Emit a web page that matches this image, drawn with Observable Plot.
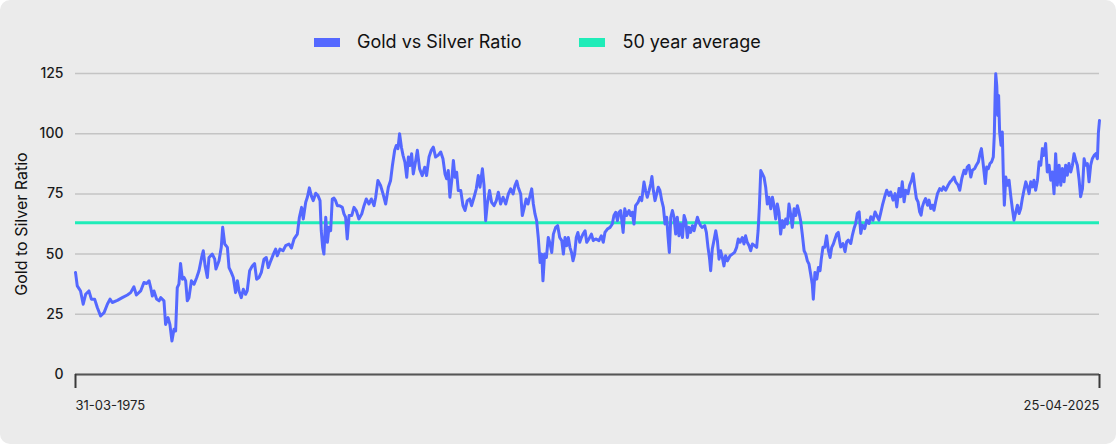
<!DOCTYPE html>
<html>
<head>
<meta charset="utf-8">
<script src="https://cdn.jsdelivr.net/npm/d3@7"></script>
<script src="https://cdn.jsdelivr.net/npm/@observablehq/plot@0.6"></script>
<style>
  html, body { margin: 0; padding: 0; background: #ffffff; }
  #card {
    position: relative;
    width: 1116px;
    height: 444px;
    background: #ebebeb;
    border-radius: 10px;
    overflow: hidden;
    font-family: Inter, "Noto Sans", sans-serif;
  }
  #legend {
    position: absolute;
    left: 314px;
    top: 30px;
    display: flex;
    align-items: center;
    font-size: 18px;
    color: #111;
    line-height: 24px;
  }
  .item { display: flex; align-items: center; margin-right: 58px; }
  .swatch { width: 26px; height: 9px; margin-right: 17px; }
  #ytitle {
    position: absolute;
    left: 21px;
    top: 224px;
    transform: translate(-50%, -50%) rotate(-90deg);
    white-space: nowrap;
    font-size: 16px;
    color: #111;
  }
  #plot { position: absolute; left: 0; top: 60px; }
</style>
</head>
<body>
<div id="card">
  <div id="legend"></div>
  <div id="ytitle"></div>
  <div id="plot"></div>
</div>
<script>
// Gold / silver price ratio, 1975 – 2025 (dates as decimal years)
const years = [
  1975.244, 1975.33, 1975.49, 1975.62, 1975.74, 1975.90, 1976.02, 1976.18, 1976.31, 1976.47,
  1976.64, 1976.80, 1976.93, 1977.04, 1977.29, 1977.53, 1977.78, 1977.94, 1978.10, 1978.22,
  1978.43, 1978.59, 1978.72, 1978.84, 1978.92, 1979.00, 1979.08, 1979.21, 1979.33, 1979.41,
  1979.57, 1979.65, 1979.77, 1979.86, 1979.96, 1980.06, 1980.14, 1980.22, 1980.30, 1980.38,
  1980.47, 1980.55, 1980.63, 1980.71, 1980.79, 1980.91, 1981.04, 1981.17, 1981.28, 1981.41,
  1981.49, 1981.58, 1981.69, 1981.77, 1981.93, 1982.05, 1982.11, 1982.26, 1982.37, 1982.44,
  1982.54, 1982.67, 1982.75, 1982.86, 1982.96, 1983.07, 1983.16, 1983.24, 1983.35, 1983.45,
  1983.56, 1983.64, 1983.76, 1983.89, 1984.00, 1984.10, 1984.22, 1984.33, 1984.46, 1984.57,
  1984.67, 1984.79, 1984.92, 1985.03, 1985.11, 1985.24, 1985.39, 1985.52, 1985.68, 1985.80,
  1985.93, 1986.09, 1986.19, 1986.30, 1986.38, 1986.50, 1986.58, 1986.68, 1986.77, 1986.87,
  1986.99, 1987.10, 1987.20, 1987.26, 1987.33, 1987.39, 1987.48, 1987.56, 1987.64, 1987.72,
  1987.80, 1987.88, 1987.96, 1988.05, 1988.16, 1988.29, 1988.37, 1988.45, 1988.53, 1988.62,
  1988.75, 1988.86, 1988.97, 1989.10, 1989.24, 1989.35, 1989.46, 1989.59, 1989.71, 1989.84,
  1989.92, 1990.03, 1990.16, 1990.28, 1990.41, 1990.54, 1990.65, 1990.74, 1990.85, 1990.93,
  1991.01, 1991.09, 1991.18, 1991.26, 1991.35, 1991.44, 1991.52, 1991.60, 1991.68, 1991.76,
  1991.88, 1991.96, 1992.07, 1992.20, 1992.32, 1992.41, 1992.53, 1992.64, 1992.74, 1992.85,
  1992.97, 1993.10, 1993.21, 1993.31, 1993.39, 1993.47, 1993.55, 1993.64, 1993.72, 1993.80,
  1993.88, 1993.96, 1994.08, 1994.19, 1994.29, 1994.40, 1994.52, 1994.61, 1994.73, 1994.84,
  1994.94, 1995.02, 1995.14, 1995.22, 1995.30, 1995.38, 1995.49, 1995.59, 1995.71, 1995.82,
  1995.92, 1996.03, 1996.15, 1996.28, 1996.41, 1996.52, 1996.64, 1996.73, 1996.82, 1996.89,
  1997.01, 1997.09, 1997.17, 1997.28, 1997.37, 1997.45, 1997.55, 1997.63, 1997.71, 1997.79,
  1997.87, 1997.96, 1998.04, 1998.10, 1998.18, 1998.27, 1998.36, 1998.45, 1998.53, 1998.61,
  1998.72, 1998.82, 1998.92, 1999.02, 1999.10, 1999.18, 1999.26, 1999.34, 1999.42, 1999.50,
  1999.57, 1999.65, 1999.73, 1999.81, 1999.90, 1999.98, 2000.06, 2000.16, 2000.24, 2000.35,
  2000.47, 2000.56, 2000.68, 2000.84, 2000.95, 2001.05, 2001.13, 2001.25, 2001.38, 2001.49,
  2001.57, 2001.66, 2001.74, 2001.82, 2001.90, 2002.02, 2002.10, 2002.19, 2002.31, 2002.39,
  2002.47, 2002.55, 2002.63, 2002.75, 2002.85, 2002.93, 2003.04, 2003.12, 2003.20, 2003.29,
  2003.37, 2003.43, 2003.50, 2003.58, 2003.66, 2003.74, 2003.82, 2003.91, 2003.99, 2004.07,
  2004.15, 2004.22, 2004.28, 2004.35, 2004.43, 2004.51, 2004.59, 2004.67, 2004.75, 2004.83,
  2004.92, 2005.00, 2005.08, 2005.16, 2005.24, 2005.32, 2005.41, 2005.49, 2005.57, 2005.65,
  2005.73, 2005.81, 2005.89, 2006.01, 2006.09, 2006.17, 2006.24, 2006.30, 2006.38, 2006.46,
  2006.55, 2006.63, 2006.71, 2006.79, 2006.87, 2006.95, 2007.03, 2007.12, 2007.25, 2007.36,
  2007.47, 2007.57, 2007.65, 2007.74, 2007.85, 2007.93, 2008.01, 2008.09, 2008.18, 2008.26,
  2008.34, 2008.45, 2008.55, 2008.62, 2008.68, 2008.75, 2008.83, 2008.91, 2008.99, 2009.07,
  2009.15, 2009.24, 2009.32, 2009.40, 2009.48, 2009.56, 2009.64, 2009.72, 2009.81, 2009.89,
  2009.97, 2010.05, 2010.13, 2010.21, 2010.29, 2010.38, 2010.46, 2010.54, 2010.62, 2010.70,
  2010.78, 2010.87, 2010.95, 2011.03, 2011.11, 2011.19, 2011.27, 2011.32, 2011.40, 2011.49,
  2011.57, 2011.65, 2011.71, 2011.79, 2011.88, 2011.97, 2012.06, 2012.14, 2012.22, 2012.30,
  2012.38, 2012.46, 2012.54, 2012.63, 2012.66, 2012.77, 2012.87, 2012.95, 2013.03, 2013.15,
  2013.23, 2013.31, 2013.39, 2013.47, 2013.56, 2013.64, 2013.72, 2013.83, 2013.93, 2014.04,
  2014.13, 2014.24, 2014.34, 2014.45, 2014.53, 2014.61, 2014.70, 2014.81, 2014.91, 2015.02,
  2015.10, 2015.22, 2015.32, 2015.40, 2015.51, 2015.59, 2015.67, 2015.76, 2015.84, 2015.95,
  2016.03, 2016.13, 2016.20, 2016.28, 2016.36, 2016.44, 2016.52, 2016.59, 2016.65, 2016.73,
  2016.81, 2016.90, 2016.98, 2017.06, 2017.14, 2017.22, 2017.30, 2017.39, 2017.50, 2017.60,
  2017.68, 2017.79, 2017.91, 2018.01, 2018.09, 2018.20, 2018.28, 2018.40, 2018.48, 2018.58,
  2018.69, 2018.77, 2018.85, 2018.93, 2019.02, 2019.10, 2019.21, 2019.29, 2019.39, 2019.47,
  2019.54, 2019.59, 2019.67, 2019.73, 2019.80, 2019.88, 2019.96, 2020.04, 2020.12, 2020.17,
  2020.21, 2020.24, 2020.29, 2020.34, 2020.38, 2020.43, 2020.50, 2020.56, 2020.61, 2020.66,
  2020.73, 2020.81, 2020.89, 2020.97, 2021.05, 2021.13, 2021.22, 2021.30, 2021.38, 2021.46,
  2021.54, 2021.62, 2021.71, 2021.79, 2021.87, 2021.95, 2022.03, 2022.11, 2022.19, 2022.28,
  2022.36, 2022.44, 2022.52, 2022.60, 2022.68, 2022.76, 2022.85, 2022.93, 2023.01, 2023.09,
  2023.17, 2023.25, 2023.34, 2023.42, 2023.50, 2023.58, 2023.66, 2023.74, 2023.82, 2023.91,
  2023.99, 2024.07, 2024.15, 2024.23, 2024.31, 2024.39, 2024.48, 2024.56, 2024.64, 2024.72,
  2024.80, 2024.88, 2024.96, 2025.05, 2025.13, 2025.21, 2025.26, 2025.312
];

const ratios = [
  42.4, 36.8, 34.7, 29.2, 33.3, 34.7, 31.3, 31.3, 27.8, 24.3,
  25.7, 29.2, 31.3, 29.9, 30.8, 31.9, 33.0, 34.0, 36.4, 33.0,
  34.7, 38.2, 37.8, 38.9, 36.1, 32.6, 34.7, 31.3, 30.6, 31.9,
  30.6, 20.8, 23.6, 20.8, 13.9, 18.8, 18.1, 36.1, 37.5, 46.1,
  39.6, 40.3, 38.9, 30.6, 31.9, 38.9, 37.5, 40.3, 43.1, 48.6,
  51.4, 45.1, 40.3, 48.6, 50.0, 47.9, 43.8, 47.2, 52.8, 61.1,
  54.2, 52.8, 44.4, 42.4, 40.3, 34.0, 38.9, 34.7, 31.9, 35.4,
  33.3, 34.7, 43.1, 45.1, 46.1, 39.6, 40.3, 42.4, 47.9, 48.6,
  44.4, 47.2, 50.0, 52.1, 49.3, 52.1, 51.4, 53.5, 54.2, 52.5,
  56.3, 58.3, 65.3, 69.4, 64.6, 71.5, 73.6, 77.5, 74.3, 72.2,
  75.3, 74.3, 72.2, 59.7, 52.8, 50.0, 65.3, 54.9, 61.1, 59.7,
  72.9, 73.3, 72.2, 70.1, 70.1, 69.4, 66.7, 65.3, 56.3, 66.0,
  66.0, 69.4, 68.1, 64.6, 66.7, 70.1, 72.9, 70.8, 72.9, 70.1,
  73.6, 80.6, 78.5, 75.0, 70.8, 77.8, 80.6, 86.8, 93.1, 95.1,
  93.8, 100.0, 94.4, 91.0, 88.2, 81.9, 90.3, 86.8, 91.7, 83.3,
  88.9, 93.1, 85.4, 82.6, 86.1, 82.6, 90.3, 93.1, 94.4, 90.3,
  91.0, 92.4, 89.6, 83.3, 81.3, 84.7, 73.6, 80.6, 88.9, 81.9,
  84.0, 76.4, 76.4, 70.1, 68.1, 72.2, 72.9, 70.1, 73.6, 77.1,
  82.6, 77.8, 85.4, 78.5, 63.9, 70.8, 76.4, 71.5, 70.1, 72.2,
  75.7, 70.8, 73.6, 70.8, 75.0, 77.1, 75.0, 78.5, 80.3, 77.8,
  75.0, 66.0, 68.8, 72.9, 70.8, 73.6, 77.1, 70.8, 66.7, 63.9,
  56.9, 46.5, 50.0, 38.9, 50.0, 48.6, 56.9, 54.2, 50.7, 58.3,
  61.1, 61.8, 56.9, 55.6, 50.0, 56.9, 53.5, 56.9, 52.8, 50.7,
  47.2, 50.0, 56.9, 59.0, 54.9, 56.9, 58.3, 59.7, 54.9, 56.3,
  58.3, 55.6, 56.3, 55.6, 57.6, 54.9, 59.0, 60.4, 61.1, 62.5,
  66.0, 67.4, 63.9, 67.4, 68.1, 59.0, 68.8, 66.0, 68.1, 66.0,
  67.4, 62.5, 70.1, 71.5, 73.6, 72.2, 79.9, 76.4, 73.6, 76.4,
  79.2, 82.2, 76.4, 72.2, 75.0, 77.8, 76.4, 72.2, 69.4, 62.5,
  65.3, 56.9, 50.7, 65.3, 68.1, 65.3, 58.3, 65.3, 57.6, 62.5,
  56.9, 66.0, 63.9, 56.9, 61.1, 59.0, 61.8, 59.7, 62.5, 65.3,
  63.2, 61.8, 61.1, 61.8, 59.0, 52.8, 48.6, 43.1, 52.1, 55.6,
  59.7, 55.6, 47.9, 51.4, 48.6, 45.1, 49.3, 47.2, 49.3, 50.0,
  50.7, 52.8, 56.3, 54.9, 56.9, 54.2, 57.6, 54.9, 53.5, 51.4,
  54.2, 53.5, 52.8, 59.7, 69.4, 84.7, 83.3, 81.9, 77.8, 70.8,
  73.6, 68.8, 73.6, 70.1, 64.6, 70.8, 67.4, 58.3, 63.9, 61.1,
  64.6, 62.5, 70.8, 66.7, 61.1, 68.8, 66.0, 70.1, 67.4, 63.9,
  58.3, 51.4, 50.0, 47.2, 45.8, 41.7, 37.5, 31.3, 42.4, 39.6,
  44.4, 43.1, 47.9, 52.8, 52.8, 57.6, 51.4, 48.6, 52.8, 54.2,
  56.3, 58.3, 59.0, 54.2, 53.0, 54.4, 51.0, 55.1, 55.8, 54.4,
  57.9, 60.6, 62.7, 66.9, 67.5, 58.6, 62.0, 60.6, 64.1, 62.7,
  65.5, 64.1, 67.5, 65.5, 64.1, 66.9, 70.3, 73.8, 76.5, 74.4,
  75.8, 72.4, 75.1, 69.6, 77.2, 73.8, 80.0, 71.7, 76.5, 75.1,
  78.6, 80.7, 83.4, 77.9, 73.1, 71.7, 67.5, 66.2, 69.6, 71.7,
  73.1, 70.3, 72.4, 68.9, 70.3, 68.2, 71.7, 75.1, 77.2, 76.5,
  77.9, 76.5, 78.6, 80.0, 80.7, 82.0, 80.0, 78.6, 76.5, 81.4,
  84.8, 83.4, 86.2, 86.9, 82.0, 84.8, 85.5, 86.9, 88.3, 91.7,
  93.8, 90.3, 84.1, 79.3, 86.2, 85.5, 87.6, 88.3, 90.3, 99.3,
  115.9, 124.9, 120.0, 107.6, 115.9, 100.7, 95.2, 100.7, 82.7, 70.3,
  82.0, 78.6, 80.7, 74.4, 68.9, 64.1, 67.5, 70.3, 66.9, 68.9,
  73.1, 76.5, 80.0, 77.9, 75.1, 80.0, 77.9, 80.7, 76.5, 80.7,
  88.3, 86.9, 93.8, 91.0, 95.9, 84.1, 86.9, 80.7, 84.1, 75.1,
  91.7, 78.6, 86.9, 78.6, 85.5, 80.0, 86.9, 82.7, 87.6, 84.1,
  86.9, 91.7, 89.0, 86.9, 81.4, 73.8, 77.2, 89.6, 86.9, 87.6,
  80.0, 86.9, 89.6, 91.0, 91.7, 89.6, 100.7, 105.5
];

// Mean ratio over the whole period
const averageRatio = 63;

// Axis ticks and labels
const yTicks = [0, 25, 50, 75, 100, 125];
const tickDates = [new Date(Date.UTC(1975, 2, 31)), new Date(Date.UTC(2025, 3, 25))];
const tickLabels = ["31-03-1975", "25-04-2025"];

const seriesNames = ["Gold vs Silver Ratio", "50 year average"];
const seriesColors = ["#5468ff", "#1fecb8"];
const yTitle = "Gold to Silver Ratio";

// Convert a decimal year to a UTC date
function toDate(y) {
  const yr = Math.floor(y);
  const start = Date.UTC(yr, 0, 1), end = Date.UTC(yr + 1, 0, 1);
  return new Date(start + (y - yr) * (end - start));
}

const series = years.map((y, i) => ({date: toDate(y), ratio: ratios[i]}));

// Legend
const legend = document.getElementById("legend");
seriesNames.forEach((name, i) => {
  const item = document.createElement("div");
  item.className = "item";
  const sw = document.createElement("span");
  sw.className = "swatch";
  sw.style.background = seriesColors[i];
  const label = document.createElement("span");
  label.textContent = name;
  item.append(sw, label);
  legend.append(item);
});

document.getElementById("ytitle").textContent = yTitle;

const axisXOptions = {
  tickSize: 14,
  tickPadding: 12,
  fontSize: 13,
  fontVariant: "normal",
  stroke: "#3a3a3a",
  strokeWidth: 2,
  fill: "#222",
  label: null
};

const chart = Plot.plot({
  width: 1116,
  height: 384,
  marginLeft: 75,
  marginRight: 17,
  marginTop: 13,
  marginBottom: 70,
  style: {fontFamily: "Inter, 'Noto Sans', sans-serif", background: "transparent", overflow: "visible"},
  x: {type: "utc", domain: tickDates},
  y: {domain: [0, 125]},
  marks: [
    Plot.gridY(yTicks, {stroke: "#c4c4c4", strokeOpacity: 1, strokeWidth: 1.5}),
    Plot.axisY(yTicks, {tickSize: 0, tickPadding: 12, fontSize: 14, fontWeight: 500, fontVariant: "normal", fill: "#1a1a1a", label: null}),
    Plot.ruleY([averageRatio], {stroke: seriesColors[1], strokeWidth: 3}),
    Plot.lineY(series, {x: "date", y: "ratio", stroke: seriesColors[0], strokeWidth: 3}),
    Plot.ruleY([0], {stroke: "#555", strokeWidth: 2}),
    Plot.axisX([tickDates[0]], {...axisXOptions, textAnchor: "start", tickFormat: () => tickLabels[0]}),
    Plot.axisX([tickDates[1]], {...axisXOptions, textAnchor: "end", tickFormat: () => tickLabels[1]})
  ]
});

document.getElementById("plot").append(chart);
</script>
</body>
</html>
